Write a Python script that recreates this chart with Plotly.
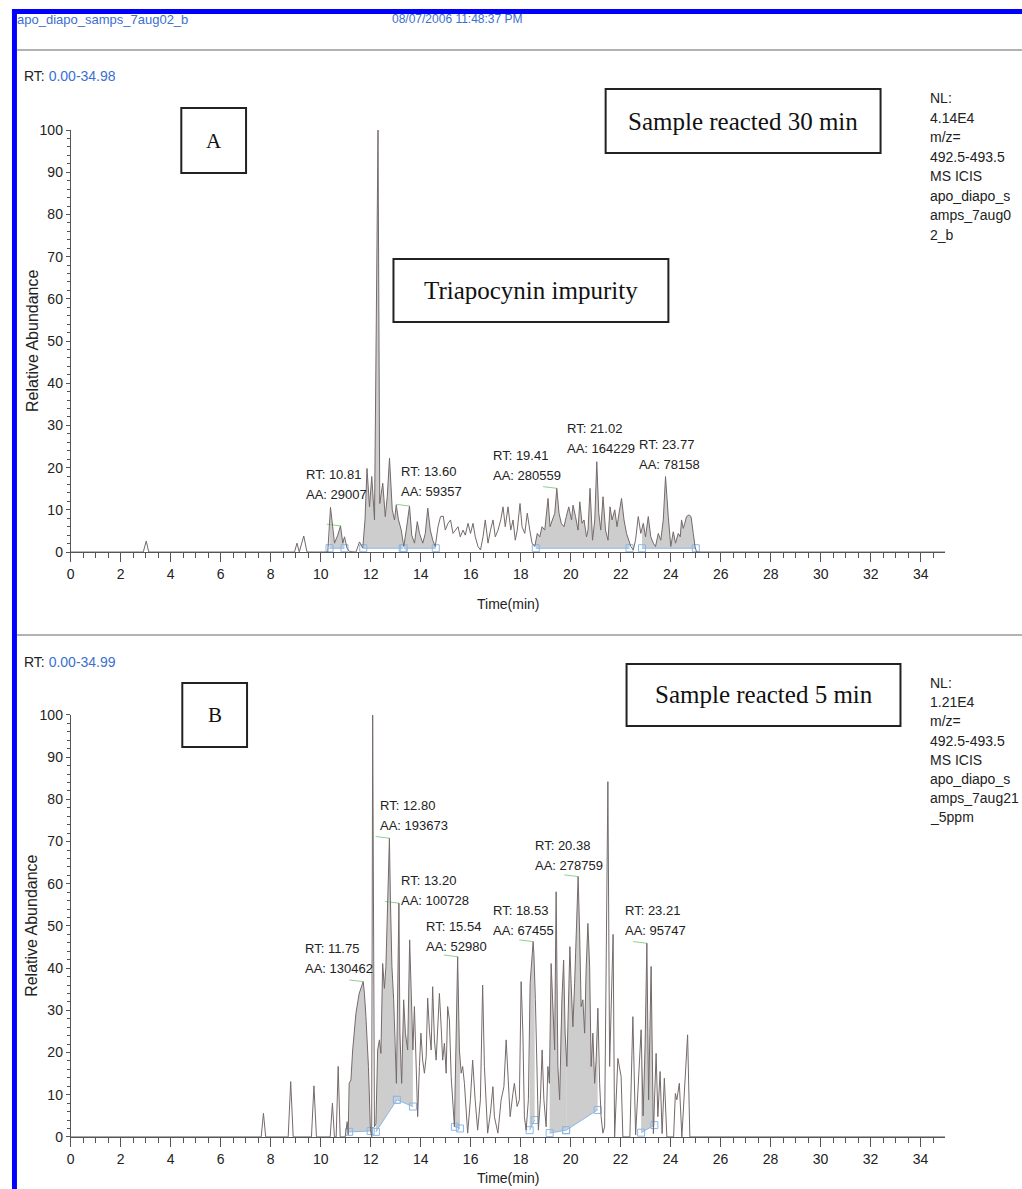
import plotly.graph_objects as go
import numpy as np

W, H = 1022, 1189

# ---------------- data (time in min, relative abundance in %) ----------------
a_points = [(0,0),(2.9,0),(3.02,2.6),(3.12,0),(8.95,0),(9.05,2.1),(9.14,0),(9.32,3.8),(9.45,0),(10.28,0),
(10.39,10.6),(10.48,5.2),(10.55,2.1),(10.68,4.0),(10.79,6.2),(10.88,2.1),(10.95,3.6),(11.05,0.9),(11.15,0.1),(11.41,0),
(11.55,2.4),(11.68,0.9),(11.77,7.6),(11.85,19.8),(11.95,10.7),(12.04,17.9),(12.15,7.6),(12.29,100),(12.36,11.5),(12.48,16.3),
(12.58,8.4),(12.66,13.1),(12.75,22.2),(12.86,10.0),(12.95,7.6),(13.02,11.1),(13.11,7.6),(13.22,5.2),(13.32,1.3),(13.42,5.2),
(13.55,10.9),(13.64,4.0),(13.75,2.1),(13.86,7.2),(13.95,4.4),(14.08,2.1),(14.18,4.4),(14.28,10.4),(14.38,5.2),(14.48,2.8),
(14.58,1.3),(14.69,6.0),(14.79,8.4),(14.90,8.5),(14.98,5.2),(15.09,6.8),(15.19,7.6),(15.29,4.4),(15.38,5.2),(15.49,6.0),
(15.58,3.6),(15.69,5.2),(15.78,4.0),(15.89,6.8),(15.99,4.4),(16.09,6.8),(16.18,3.6),(16.29,1.3),(16.39,0.5),(16.49,3.6),
(16.58,7.6),(16.69,2.1),(16.79,5.2),(16.89,7.6),(16.98,3.6),(17.09,5.2),(17.20,7.6),(17.29,10.7),(17.38,6.0),(17.49,10.7),
(17.60,5.2),(17.69,7.6),(17.78,2.8),(17.86,5.2),(17.97,11.5),(18.05,6.0),(18.16,4.4),(18.26,9.2),(18.36,5.2),(18.45,2.1),
(18.56,1.3),(18.66,4.4),(18.76,3.6),(18.85,6.0),(18.96,5.2),(19.09,12.7),(19.17,6.0),(19.25,7.6),(19.36,9.2),(19.44,15.1),
(19.53,9.2),(19.62,6.8),(19.73,6.0),(19.82,8.4),(19.92,10.7),(20.03,7.6),(20.09,11.1),(20.19,8.4),(20.29,5.2),(20.36,11.9),
(20.45,6.8),(20.53,7.6),(20.63,3.6),(20.69,5.2),(20.77,15.1),(20.87,2.8),(20.96,7.6),(21.04,21.4),(21.12,9.2),(21.20,5.2),
(21.29,13.1),(21.39,5.2),(21.49,2.8),(21.57,10.7),(21.65,7.6),(21.76,10.0),(21.85,6.0),(21.93,9.2),(22.03,12.7),(22.13,7.6),
(22.23,4.4),(22.32,2.8),(22.40,1.3),(22.50,0.5),(22.59,2.8),(22.70,8.4),(22.80,4.4),(22.90,6.8),(22.99,3.6),(23.10,8.4),
(23.20,3.6),(23.30,2.1),(23.39,1.3),(23.50,4.4),(23.60,2.8),(23.70,7.6),(23.79,17.9),(23.90,8.4),(24.00,1.3),(24.10,4.8),
(24.19,2.1),(24.30,4.4),(24.38,3.6),(24.43,7.6),(24.50,5.6),(24.56,6.8),(24.63,8.4),(24.73,8.8),(24.81,8.4),(24.90,4.4),
(24.97,1.3),(25.03,0),(34.98,0)]

b_points = [(0,0),(7.62,0),(7.71,5.6),(7.80,0),(8.70,0),(8.80,13.1),(8.90,0),(9.63,0),(9.73,12.1),(9.83,0),
(10.38,0),(10.47,8.0),(10.55,0),(10.62,0),(10.70,16.7),(10.78,0),(10.98,0),(11.06,3.6),(11.10,0.5),(11.14,12.7),
(11.21,13.5),(11.28,20.6),(11.41,29.3),(11.54,34.0),(11.70,36.8),(11.75,34.0),(11.81,28.5),(11.91,16.7),(11.99,1.6),(12.04,0),
(12.08,100),(12.15,2.4),(12.21,3.2),(12.28,20.6),(12.35,23.0),(12.41,19.8),(12.48,41.1),(12.55,35.2),(12.61,40.4),(12.75,70.8),
(12.79,56.2),(12.85,40.4),(12.92,32.5),(12.97,20.6),(13.03,12.7),(13.13,55.4),(13.17,24.6),(13.24,12.7),(13.32,32.5),(13.39,24.6),
(13.48,20.6),(13.56,46.7),(13.63,28.5),(13.69,20.6),(13.75,30.9),(13.81,16.7),(13.88,4.8),(13.95,16.7),(14.01,24.6),(14.08,18.2),
(14.15,15.1),(14.22,19.0),(14.28,32.9),(14.35,25.3),(14.42,20.6),(14.48,35.6),(14.55,23.0),(14.62,18.2),(14.68,24.6),(14.75,34.0),
(14.82,26.1),(14.88,18.2),(14.95,22.2),(15.02,15.1),(15.08,30.9),(15.15,27.7),(15.22,14.3),(15.28,8.8),(15.35,2.4),(15.48,42.7),
(15.55,20.6),(15.62,15.1),(15.68,16.7),(15.75,12.7),(15.82,4.8),(15.88,0.9),(15.99,8.8),(16.08,18.2),(16.18,8.8),(16.28,1.6),
(16.39,8.8),(16.48,36.0),(16.55,16.7),(16.62,8.8),(16.68,0.9),(16.79,5.6),(16.89,11.9),(16.95,4.8),(17.09,0.9),(17.22,8.8),
(17.33,11.9),(17.42,23.0),(17.49,13.5),(17.58,4.8),(17.69,10.3),(17.75,12.7),(17.86,7.2),(17.95,8.8),(18.02,36.8),(18.09,24.6),
(18.15,4.8),(18.22,1.6),(18.31,8.8),(18.38,36.4),(18.50,46.3),(18.53,43.5),(18.59,32.5),(18.66,8.8),(18.71,1.6),(18.79,8.8),
(18.86,20.6),(18.93,8.8),(19.02,2.4),(19.09,16.7),(19.15,12.7),(19.22,41.1),(19.29,32.5),(19.36,20.6),(19.42,58.1),(19.49,16.7),
(19.56,8.8),(19.60,24.6),(19.65,32.5),(19.72,41.9),(19.78,24.6),(19.85,16.7),(19.92,30.9),(19.97,45.1),(20.02,36.4),(20.09,26.1),
(20.16,36.4),(20.22,48.3),(20.30,61.7),(20.36,48.3),(20.42,30.9),(20.49,32.5),(20.56,24.6),(20.62,39.6),(20.69,50.6),(20.76,40.4),
(20.82,16.7),(20.89,24.6),(20.96,12.7),(21.02,18.2),(21.09,30.5),(21.16,12.7),(21.22,4.8),(21.29,0.9),(21.36,2.4),(21.49,84.2),
(21.56,16.7),(21.70,48.0),(21.76,0),(21.89,18.6),(22.02,14.3),(22.09,0),(22.37,0),(22.49,28.5),(22.60,0.5),(22.82,25.4),
(22.90,5.0),(22.98,22.0),(23.05,45.9),(23.12,8.8),(23.22,40.4),(23.31,0.8),(23.42,19.8),(23.49,4.8),(23.58,15.5),(23.66,0.8),
(23.75,13.9),(23.85,0),(24.12,0),(24.19,10.3),(24.25,8.8),(24.35,12.7),(24.45,0),(24.68,24.2),(24.77,0),(34.99,0)]

# integration windows: (t_start, baseline_start, t_end, baseline_end)
a_windows = [(10.35,0.9,10.95,0.9),(11.70,0.9,13.28,0.9),(13.32,0.9,14.60,0.9),
             (18.60,0.9,22.35,0.9),(22.85,0.9,25.00,0.9)]
b_windows = [(11.14,1.2,12.00,1.4),(12.21,1.2,13.05,8.8),(13.05,8.8,13.69,7.2),
             (15.37,2.4,15.57,2.0),(18.36,1.6,18.56,4.0),(19.16,0.9,19.82,1.6),
             (19.82,1.6,21.08,6.4),(22.82,1.0,23.35,2.8)]

# peak labels: (RT, AA, label x [min], label centre y [%], apex time of labelled peak [min])
a_labels = [("10.81","29007",9.32,16.1,10.79),("12.31","705647",10.96,105.0,None),("13.60","59357",13.11,16.6,13.55),
            ("19.41","280559",16.81,20.4,19.44),("21.02","164229",19.76,26.8,None),("23.77","78158",22.63,23.0,None)]
b_labels = [("11.75","130462",9.28,42.4,11.70),("12.80","193673",12.31,76.1,12.75),("13.20","100728",13.15,58.3,13.13),
            ("15.54","52980",14.14,47.6,15.48),("18.53","67455",16.81,51.4,18.50),("20.38","278759",18.49,66.8,20.30),
            ("23.21","95747",22.11,51.4,23.05)]

a_info = ["NL:", "4.14E4", "m/z=", "492.5-493.5", "MS ICIS", "apo_diapo_s", "amps_7aug0", "2_b"]
b_info = ["NL:", "1.21E4", "m/z=", "492.5-493.5", "MS ICIS", "apo_diapo_s", "amps_7aug21", "_5ppm"]

# ---------------- styling ----------------
SANS = "Liberation Sans, Arial, sans-serif"
SERIF = "Liberation Serif, Times New Roman, serif"
LINE = "#756a6a"
FILL = "#cdcdcd"
SQ = "#8ab8e6"
BLUE = "#3b6fd0"
GREEN = "#8fd18f"
PX_PER_UNIT = 4.22  # vertical pixels per % abundance (as seen)

# the captured page is vertically compressed slightly: seen_y = 7.9 + 0.9867 * layout_y
VS, VO = 0.9867, 7.9

fig = go.Figure()

def px_x(p):
    return (p - 2) / W

def px_y(p):
    return 1 - ((p - VO) / VS) / H

panels = [
    dict(points=a_points, windows=a_windows, labels=a_labels, xa="x", ya="y"),
    dict(points=b_points, windows=b_windows, labels=b_labels, xa="x2", ya="y2"),
]

for pnl in panels:
    t = np.array([p[0] for p in pnl["points"]])
    v = np.array([p[1] for p in pnl["points"]])
    for (t0, b0, t1, b1) in pnl["windows"]:
        m = (t > t0) & (t < t1)
        ct = np.concatenate([[t0], t[m], [t1]])
        cv = np.concatenate([[np.interp(t0, t, v)], v[m], [np.interp(t1, t, v)]])
        bl = b0 + (ct - t0) * (b1 - b0) / (t1 - t0)
        fig.add_trace(go.Scatter(x=np.concatenate([ct, ct[::-1]]), y=np.concatenate([cv, bl[::-1]]),
                                 fill="toself", fillcolor=FILL, mode="none", xaxis=pnl["xa"], yaxis=pnl["ya"],
                                 hoverinfo="skip", showlegend=False))
        fig.add_trace(go.Scatter(x=[t0, t1], y=[b0, b1], mode="lines+markers",
                                 line=dict(color=SQ, width=1),
                                 marker=dict(symbol="square-open", size=7, color=SQ, line=dict(width=1)),
                                 xaxis=pnl["xa"], yaxis=pnl["ya"], hoverinfo="skip", showlegend=False,
                                 cliponaxis=False))
    # green leader from label to the apex of the labelled peak
    for (rt, aa, lx, ly, apex_t) in pnl["labels"]:
        if apex_t is None:
            continue
        apex_v = float(np.interp(apex_t, t, v))
        fig.add_trace(go.Scatter(x=[apex_t - 0.55, apex_t], y=[apex_v + 0.4, apex_v], mode="lines",
                                 line=dict(color=GREEN, width=1), xaxis=pnl["xa"], yaxis=pnl["ya"],
                                 hoverinfo="skip", showlegend=False))
    fig.add_trace(go.Scatter(x=t, y=v, mode="lines", line=dict(color=LINE, width=1),
                             xaxis=pnl["xa"], yaxis=pnl["ya"], showlegend=False, cliponaxis=False))

annotations = []
half = 10 / PX_PER_UNIT
for pnl in panels:
    for (rt, aa, lx, ly, _) in pnl["labels"]:
        for s, yy in ((f"RT: {rt}", ly + half), (f"AA: {aa}", ly - half)):
            annotations.append(dict(x=lx, y=yy, xref=pnl["xa"], yref=pnl["ya"], xanchor="left", yanchor="middle",
                                    text=s, showarrow=False, font=dict(family=SANS, size=13, color="#222")))

def txt(x, y, s, size=14, color="#222", family=SANS, xanchor="left", angle=0):
    annotations.append(dict(x=px_x(x), y=px_y(y), xref="paper", yref="paper", text=s, showarrow=False,
                            xanchor=xanchor, yanchor="middle", textangle=angle,
                            font=dict(family=family, size=size, color=color)))

# header texts
txt(13, 19, "apo_diapo_samps_7aug02_b", 13, BLUE)
txt(390, 19, "08/07/2006 11:48:37 PM", 12, BLUE)
txt(20, 76, "RT: <span style='color:%s'>0.00-34.98</span>" % BLUE, 14)
txt(20, 662, "RT: <span style='color:%s'>0.00-34.99</span>" % BLUE, 14)

# info columns
for i, s in enumerate(a_info):
    txt(930, 98 + i * 19.5, s, 14)
for i, s in enumerate(b_info):
    txt(930, 683 + i * 19.2, s, 14)

# axis titles
txt(508, 604, "Time(min)", 14, xanchor="center")
txt(508, 1178, "Time(min)", 14, xanchor="center")
txt(30, 341, "Relative Abundance", 16, xanchor="center", angle=-90)
txt(30, 926, "Relative Abundance", 16, xanchor="center", angle=-90)

# boxed serif captions
boxes = [((180, 108, 245, 173), "A", 21), ((606, 89, 882, 153), "Sample reacted 30 min", 25),
         ((393, 259, 669, 322), "Triapocynin impurity", 25), ((181, 683, 246, 747), "B", 21),
         ((627, 664, 902, 726), "Sample reacted 5 min", 25)]
shapes = []
for (x0, y0, x1, y1), s, fs in boxes:
    shapes.append(dict(type="rect", xref="paper", yref="paper", x0=px_x(x0), x1=px_x(x1), y0=px_y(y0), y1=px_y(y1),
                       line=dict(color="#222", width=2), fillcolor="rgba(0,0,0,0)"))
    txt((x0 + x1) / 2, (y0 + y1) / 2, s, fs, "#111", SERIF, xanchor="center")

# frame: blue border and grey separators
shapes.append(dict(type="rect", xref="paper", yref="paper", x0=px_x(10), x1=px_x(15), y0=-0.02, y1=px_y(9),
                   line=dict(width=0), fillcolor="#0000ff"))
shapes.append(dict(type="rect", xref="paper", yref="paper", x0=px_x(10), x1=1, y0=px_y(14), y1=px_y(9),
                   line=dict(width=0), fillcolor="#0000ff"))
for yy in (50, 635):
    shapes.append(dict(type="line", xref="paper", yref="paper", x0=px_x(15), x1=1, y0=px_y(yy), y1=px_y(yy),
                       line=dict(color="#999", width=1.5)))

xd = [px_x(69), px_x(947)]
ax_common = dict(showgrid=False, zeroline=False, showline=True, linecolor="#555", linewidth=1,
                 ticks="outside", tickcolor="#555", tickfont=dict(family=SANS, size=14, color="#222"))
xax = dict(ax_common, range=[0, 34.98], domain=xd, dtick=2, tick0=0, ticklen=9,
           minor=dict(dtick=0.5, ticklen=5, ticks="outside", tickcolor="#555"))
yax = dict(ax_common, range=[0, 100], dtick=10, ticklen=4,
           minor=dict(dtick=2, ticklen=3, ticks="outside", tickcolor="#555"))

fig.update_layout(
    width=W, height=H, margin=dict(l=0, r=0, t=0, b=0),
    paper_bgcolor="white", plot_bgcolor="white", showlegend=False,
    xaxis=dict(xax, anchor="y"),
    yaxis=dict(yax, domain=[px_y(552), px_y(130)], anchor="x"),
    xaxis2=dict(xax, range=[0, 34.99], anchor="y2"),
    yaxis2=dict(yax, domain=[px_y(1137), px_y(715)], anchor="x2"),
    annotations=annotations, shapes=shapes,
)

fig.write_html("out.html", config={"displayModeBar": False},
               post_script="document.body.style.margin='0';document.body.style.overflow='hidden';")
